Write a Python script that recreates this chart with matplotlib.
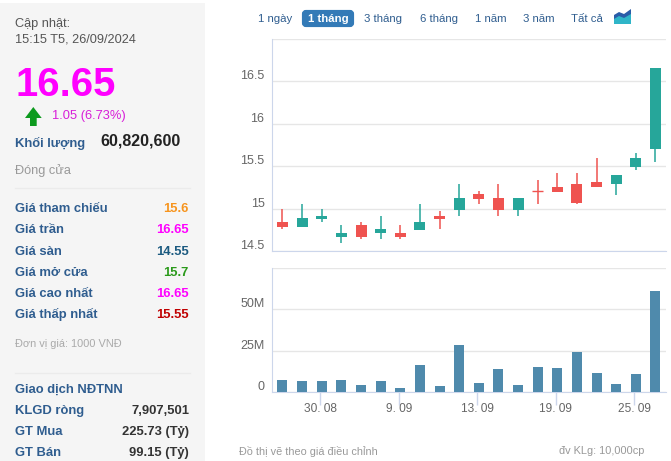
import matplotlib
matplotlib.use("Agg")
import matplotlib.pyplot as plt
from matplotlib.patches import FancyBboxPatch, Polygon, Rectangle
from matplotlib.transforms import ScaledTranslation

plt.rcParams['font.family'] = ['Liberation Sans', 'DejaVu Sans']

W, H = 671, 461

# du lieu nen (tu 28.08 den 26.09)
opens = [14.84, 14.79, 14.88, 14.67, 14.81, 14.71, 14.72, 14.75, 14.92, 14.99,
         15.17, 15.13, 14.99, 15.21, 15.26, 15.29, 15.31, 15.29, 15.49, 15.7]
closes = [14.79, 14.89, 14.92, 14.72, 14.67, 14.76, 14.67, 14.84, 14.88, 15.13,
          15.12, 14.99, 15.13, 15.21, 15.2, 15.07, 15.25, 15.4, 15.6, 16.65]
highs = [15.0, 15.05, 15.0, 14.81, 14.84, 14.92, 14.81, 15.05, 14.97, 15.29,
         15.21, 15.29, 15.13, 15.34, 15.42, 15.42, 15.6, 15.4, 15.66, 16.65]
lows = [14.76, 14.79, 14.84, 14.6, 14.64, 14.64, 14.64, 14.75, 14.76, 14.92,
        15.05, 14.92, 14.92, 15.05, 15.2, 15.05, 15.25, 15.16, 15.46, 15.55]
volumes = [7.4, 6.8, 6.8, 7.4, 4.4, 6.8, 2.6, 16.5, 3.8, 28.5,
           5.6, 14.0, 4.4, 15.3, 14.7, 24.3, 11.6, 5.0, 11.0, 60.82]

price_ticks = [14.5, 15, 15.5, 16, 16.5, 17]
price_labels = ['14.5', '15', '15.5', '16', '16.5', '']
vol_ticks = [0, 25, 50, 75]
vol_labels = ['0', '25M', '50M', '']
date_pos = [2, 6, 10, 14, 18]
date_labels = ['30. 08', '9. 09', '13. 09', '19. 09', '25. 09']
ranges = ['1 ngày', '1 tháng', '3 tháng', '6 tháng', '1 năm', '3 năm', 'Tất cả']
range_x = [275, 328, 383.5, 438.5, 491, 538.5, 587]

BLUE = '#2f5d8f'
GREEN = '#26a69a'
RED = '#ef5350'
LINE = '#ccd6eb'
GRID = '#e6e6e6'

fig = plt.figure(figsize=(W / 100, H / 100), dpi=100)


def pixel_axes(left, top, right, bottom):
    return fig.add_axes([left / W, 1 - bottom / H, (right - left) / W, (bottom - top) / H])


# lop nen + chu, toa do pixel
bg = fig.add_axes([0, 0, 1, 1])
bg.set_xlim(0, W)
bg.set_ylim(H, 0)
bg.axis('off')
bg.add_patch(Rectangle((0, 3), 205, H, color='#f5f5f5', lw=0))
bg.plot([15, 190], [188, 188], color='#ebebeb', lw=1)
bg.plot([15, 190], [373, 373], color='#ebebeb', lw=1)


def txt(x, y, s, size=12, color='#333333', weight='normal', ha='left'):
    bg.text(x, y, s, fontsize=size * 0.72, color=color, fontweight=weight, ha=ha, va='center')


txt(15, 24.5, 'Cập nhật:', 12.7, '#555555')
txt(15, 39.5, '15:15 T5, 26/09/2024', 12.7, '#555555')
txt(15, 85, '16.65', 40, '#ff00ff', 'bold')
txt(52, 116, '1.05 (6.73%)', 12.9, '#d81ed8')
txt(15, 143, 'Khối lượng', 13, BLUE, 'bold')
txt(100, 141, '60,820,600', 16, '#222222', 'bold')
txt(15, 170.5, 'Đóng cửa', 12.7, '#999999')

rows = [('Giá tham chiếu', '15.6', '#f7941d', 209),
        ('Giá trần', '16.65', '#ff00ff', 230),
        ('Giá sàn', '14.55', '#1b5a80', 251.5),
        ('Giá mở cửa', '15.7', '#2a9a1a', 272.5),
        ('Giá cao nhất', '16.65', '#ff00ff', 293.5),
        ('Giá thấp nhất', '15.55', '#c00000', 314.5)]
for name, val, col, y in rows:
    txt(15, y, name, 13, BLUE, 'bold')
    txt(189, y, val, 13, col, 'bold', ha='right')

txt(15, 344, 'Đơn vị giá: 1000 VNĐ', 11, '#aaaaaa')
txt(15, 389.5, 'Giao dịch NĐTNN', 13, BLUE, 'bold')
for name, val, y in [('KLGD ròng', '7,907,501', 410.5),
                     ('GT Mua', '225.73 (Tỷ)', 431.5),
                     ('GT Bán', '99.15 (Tỷ)', 452.5)]:
    txt(15, y, name, 13, BLUE, 'bold')
    txt(189, y, val, 13, '#333333', 'bold', ha='right')

# mui ten tang
bg.add_patch(Polygon([(33.3, 107), (41.7, 118), (36.7, 118), (36.7, 126), (30, 126), (30, 118), (25, 118)],
                     color='#0d9a1e', lw=0))

# nut chon khoang thoi gian
bg.add_patch(FancyBboxPatch((304, 12), 48, 13, boxstyle='round,pad=0,rounding_size=2',
                            fc='#337ab7', ec='#337ab7', lw=3))
for label, x in zip(ranges, range_x):
    active = label == '1 tháng'
    bg.text(x, 18.5, label, fontsize=8.2, color='white' if active else BLUE, ha='center', va='center',
            fontweight='bold' if active else 'normal')

# icon bieu do
bg.add_patch(Polygon([(614, 24), (614, 15), (619, 12), (624, 14), (631, 9), (631, 24)], color='#2a5ca8', lw=0))
bg.add_patch(Polygon([(614, 24), (614, 19), (619, 16), (624, 18), (631, 14), (631, 24)], color='#2fb5c8', lw=0))

txt(239, 451, 'Đồ thị vẽ theo giá điều chỉnh', 10.9, '#999999')
txt(559, 451, 'đv KLg: 10,000cp', 11, '#999999')

xlim = (-0.56, 19.51)
xs = list(range(len(opens)))

# gia
ax = pixel_axes(271.5, 38.5, 665.5, 251.3)
ax.patch.set_alpha(0)
ax.set_xlim(*xlim)
ax.set_ylim(14.5, 17)
ax.set_yticks(price_ticks, price_labels)
ax.set_xticks([])
ax.grid(axis='y', color=GRID, lw=1)
ax.set_axisbelow(True)
for x, o, c, hi, lo in zip(xs, opens, closes, highs, lows):
    col = GREEN if c > o else RED
    ax.vlines(x, lo, hi, color=col, lw=1.1, zorder=2)
    if o == c:
        ax.hlines(o, x - 0.28, x + 0.28, color=col, lw=1, zorder=3)
    else:
        ax.bar(x, abs(c - o), 0.56, bottom=min(o, c), color=col, zorder=3)

# khoi luong
ax2 = pixel_axes(271.5, 267.8, 665.5, 392.3)
ax2.patch.set_alpha(0)
ax2.set_xlim(*xlim)
ax2.set_ylim(0, 75)
ax2.set_yticks(vol_ticks, vol_labels)
ax2.set_xticks([p - 0.07 for p in date_pos], date_labels)
ax2.grid(axis='y', color=GRID, lw=1)
ax2.set_axisbelow(True)
ax2.bar(xs, volumes, 0.51, color='#4f8aac', zorder=3)

lift = ScaledTranslation(0, 1.5 / 72, fig.dpi_scale_trans)
for a in (ax, ax2):
    a.spines['top'].set_visible(False)
    a.spines['right'].set_visible(False)
    a.spines['left'].set_color(LINE)
    a.spines['bottom'].set_color(LINE)
    a.tick_params(axis='y', length=0, pad=5, labelsize=9, labelcolor='#666666')
    for lab in a.get_yticklabels():
        lab.set_va('baseline')
        lab.set_transform(lab.get_transform() + lift)
ax2.tick_params(axis='x', length=9, width=1, color=LINE, pad=-1, labelsize=8.6, labelcolor='#666666')

fig.savefig('out.png', dpi=100)
